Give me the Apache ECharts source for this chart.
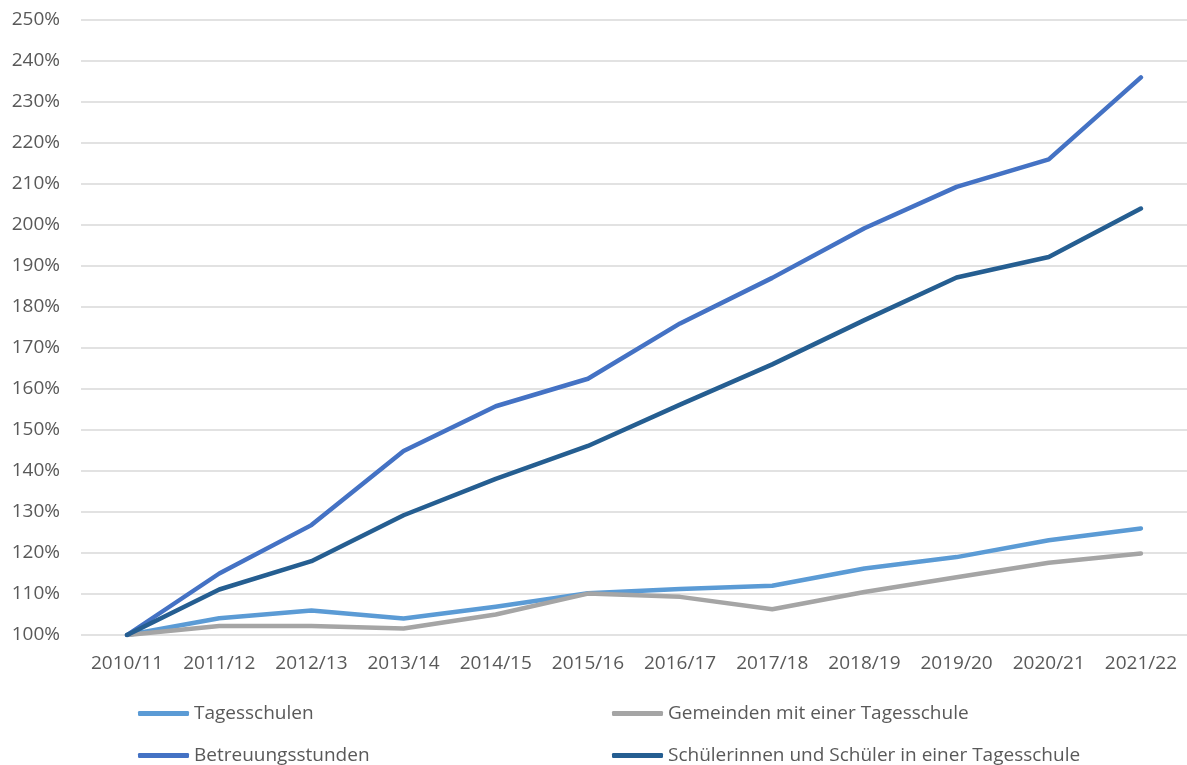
<!DOCTYPE html>
<html>
<head>
<meta charset="utf-8">
<script src="https://cdn.jsdelivr.net/npm/echarts@6/dist/echarts.min.js"></script>
<style>
html,body{margin:0;padding:0;background:#fff;}
#chart{width:1187px;height:765px;}
</style>
</head>
<body>
<div id="chart"></div>
<script>
const categories = ['2010/11','2011/12','2012/13','2013/14','2014/15','2015/16','2016/17','2017/18','2018/19','2019/20','2020/21','2021/22'];
const tagesschulen = [100, 104.1, 106, 104, 106.9, 110.2, 111.2, 112, 116.2, 119, 123.1, 126];
const gemeinden = [100, 102.2, 102.2, 101.6, 105, 110.1, 109.3, 106.3, 110.5, 114.1, 117.6, 119.9];
const betreuung = [100, 115, 126.8, 144.9, 155.8, 162.5, 176, 187.1, 199.2, 209.3, 216, 236];
const schueler = [100, 111.1, 118, 129.2, 138.1, 146.1, 156.2, 166, 176.8, 187.2, 192.2, 204];
const yTicks = {min: 100, max: 250, interval: 10};

const names = ['Tagesschulen','Gemeinden mit einer Tagesschule','Betreuungsstunden','Schülerinnen und Schüler in einer Tagesschule'];
const colors = ['#5B9BD5','#A5A5A5','#4472C4','#255E91'];
const dataSets = [tagesschulen, gemeinden, betreuung, schueler];
const FONT = '"Open Sans", "Noto Sans", sans-serif';
const TXT = '#595959';

const legendPos = [
  {left: 138, top: 704},
  {left: 612, top: 704},
  {left: 138, top: 746},
  {left: 612, top: 746}
];

const chart = echarts.init(document.getElementById('chart'), null, {renderer: 'canvas'});
chart.setOption({
  animation: false,
  backgroundColor: '#fff',
  grid: {left: 81, top: 20, width: 1113, height: 615, containLabel: false},
  legend: names.map((n, i) => ({
    data: [n],
    left: legendPos[i].left,
    top: legendPos[i].top,
    icon: 'roundRect',
    itemWidth: 51,
    itemHeight: 5,
    padding: 0,
    textStyle: {color: TXT, fontSize: 19, fontFamily: FONT}
  })),
  xAxis: {
    type: 'category',
    data: categories,
    boundaryGap: true,
    axisLine: {show: false},
    axisTick: {show: false},
    axisLabel: {color: TXT, fontSize: 19, fontFamily: FONT, margin: 19, interval: 0, hideOverlap: false}
  },
  yAxis: {
    type: 'value',
    min: yTicks.min,
    max: yTicks.max,
    interval: yTicks.interval,
    axisLine: {show: false},
    axisTick: {show: false},
    splitLine: {lineStyle: {color: '#d9d9d9', width: 1.5}},
    axisLabel: {color: TXT, fontSize: 19, fontFamily: FONT, margin: 21, formatter: '{value}%'}
  },
  series: names.map((n, i) => ({
    name: n,
    type: 'line',
    data: dataSets[i],
    symbol: 'none',
    itemStyle: {color: colors[i]},
    lineStyle: {color: colors[i], width: 4.5, cap: 'round', join: 'round'}
  }))
});
</script>
</body>
</html>
